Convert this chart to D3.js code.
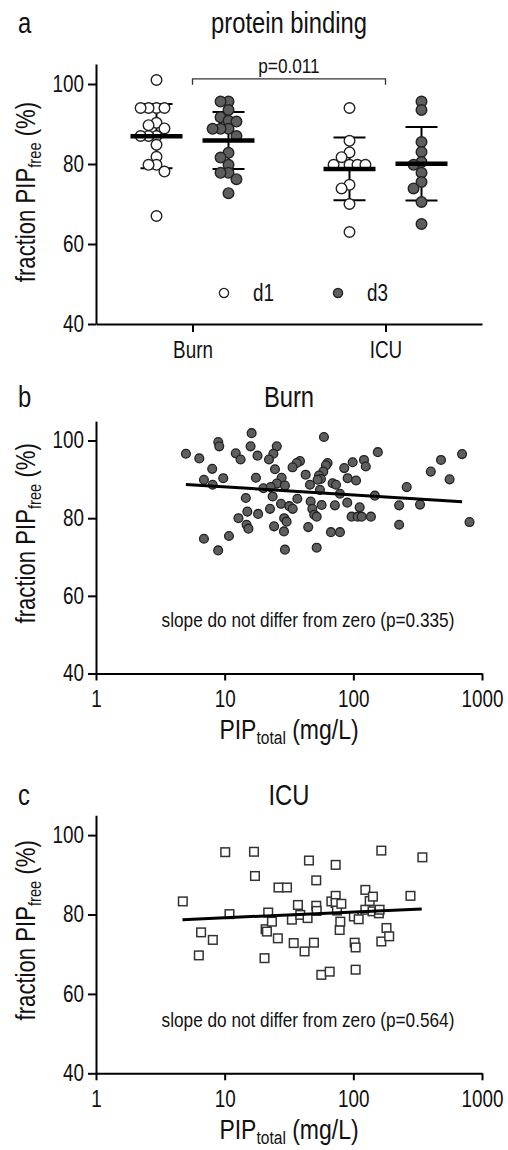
<!DOCTYPE html>
<html>
<head>
<meta charset="utf-8">
<script src="https://cdn.jsdelivr.net/npm/d3@7"></script>
<style>
  body { margin: 0; background: #fff; }
</style>
</head>
<body>
<svg id="viz" width="508" height="1150"></svg>
<script>
// ---- data ----
const groups = ["Burn", "ICU"];
const days = ["d1", "d3"];
const burnD1 = [101, 94, 94, 94, 94, 90.3, 89.7, 88.9, 87, 87, 87, 84.8, 81.8, 79.8, 79.8, 78.1, 67];
const burnD3 = [95.6, 95.6, 93.5, 91.7, 90.6, 90.8, 88.8, 88.8, 88.8, 87, 82.8, 81.6, 79.8, 77.8, 77.8, 76.2, 72.7];
const icuD1 = [94, 85.8, 82.9, 81.7, 79.8, 79.8, 79.8, 79.8, 73.9, 74.8, 70, 63];
const icuD3 = [95.6, 93.5, 85.5, 83, 80.5, 79.8, 77.8, 75.5, 73.9, 70.5, 65];
const pValue = "p=0.011";

// Burn: PIP total (mg/L) vs fraction free (%)
const burnConc = [5.0, 6.35, 8.0, 6.9, 8.07, 9.75, 8.92, 9.08, 12.2, 13.3, 16.2, 15.9, 18.0, 17.5, 14.6, 15.0, 12.8, 18.2, 14.8, 15.3,
  6.9, 10.8, 8.9, 25.4, 23.9, 22.1, 24.6, 59.1, 38.5, 36.3, 33.7, 63.1, 61.2, 42.6, 58.4, 54.1, 56.0, 52.8, 85.0, 98.8,
  121, 125, 155, 90.3, 105, 27.7, 25.4, 29.4, 20.0, 22.8, 46.0, 69.0, 73.3, 55.0, 78.7, 147, 227, 23.6, 36.7, 46.6,
  48.0, 56.7, 71.9, 89.7, 112, 27.4, 31.8, 33.8, 22.5, 49.7, 51.9, 97, 108, 116, 137, 29.0, 30.3, 24.2, 28.9, 44.6,
  67.0, 78.7, 227, 29.4, 51.9, 260, 330, 400, 480, 560, 700, 800];
const burnFree = [96.6, 95.4, 92.7, 89.9, 88.6, 90.3, 99.6, 98.5, 96.7, 95.1, 101.9, 98.5, 96.1, 90.4, 85.2, 81.7, 80.0, 81.1, 78.3, 77.3,
  74.7, 75.4, 71.7, 98.5, 96.6, 95.1, 92.6, 100.9, 94.7, 94.2, 93.1, 94.2, 93.6, 91.2, 92.0, 91.0, 90.1, 89.9, 92.9, 94.4,
  95.0, 93.3, 97.0, 90.3, 89.7, 90.4, 88.9, 88.4, 87.7, 88.0, 88.6, 89.0, 88.6, 87.3, 86.3, 85.8, 83.3, 85.6, 85.0, 84.3,
  82.4, 83.4, 83.3, 84.0, 82.8, 83.7, 83.1, 82.4, 82.4, 80.9, 80.4, 80.4, 80.4, 80.4, 80.4, 80.0, 79.1, 77.9, 76.6, 77.7,
  76.4, 76.4, 78.3, 71.9, 72.4, 88.0, 83.5, 92.0, 95.0, 90.0, 96.5, 79.0];
const burnFit = [[5.0, 88.7], [700, 84.2]];
const burnNote = "slope do not differ from zero (p=0.335)";

// ICU
const icuConc = [4.73, 6.56, 6.3, 8.09, 10.1, 10.9, 16.9, 17.2, 20.4, 20.8, 21.3, 21.8, 23.3, 25.9, 26.2, 30.5, 33.3, 34.4, 37.1, 38.7,
  41.8, 44.1, 45.2, 49.4, 51.5, 51.5, 51.9, 56.4, 65.5, 67.5, 72.9, 72.9, 72.9, 74.6, 78.3, 79.2, 80.7, 101, 102.4, 104.2,
  104.2, 110, 124, 124, 134, 142, 141, 158, 160, 165, 165, 181, 190, 278, 344];
const icuFree = [83.3, 75.5, 69.7, 73.6, 95.7, 80.1, 95.8, 89.7, 69.0, 76.3, 75.7, 80.5, 78.2, 74.0, 86.8, 86.8, 78.7, 72.8, 82.4, 79.9,
  70.7, 79.1, 93.6, 72.9, 88.6, 82.2, 80.9, 64.8, 65.6, 83.3, 92.5, 84.7, 82.9, 81.0, 76.1, 78.2, 82.7, 79.5, 72.9, 71.7,
  66.1, 78.8, 86.2, 81.2, 83.4, 84.5, 80.8, 80.3, 81.2, 96.1, 73.2, 76.6, 74.5, 84.7, 94.4];
const icuFit = [[4.7, 78.7], [340, 81.4]];
const icuNote = "slope do not differ from zero (p=0.564)";

const yTicks = [40, 60, 80, 100];
const xTicks = [1, 10, 100, 1000];

// ---- font: narrow sans if available, otherwise squeeze Liberation Sans ----
function hasFont(name) {
  const c = document.createElement("canvas").getContext("2d");
  const t = "abcdefghij 0123456789 PIP";
  c.font = "40px monospace";
  const w0 = c.measureText(t).width;
  c.font = `40px '${name}', monospace`;
  return c.measureText(t).width !== w0;
}
const NARROW = hasFont("Liberation Sans Narrow");
const FONT = NARROW ? "'Liberation Sans Narrow', sans-serif" : "'Liberation Sans', sans-serif";
const SX = NARROW ? 1 : 0.82;

const svg = d3.select("#viz").attr("font-family", FONT);
const ink = "#111";
const grayFill = "#5e5e5e";

function styleAxis(g) {
  g.attr("font-family", FONT).attr("font-size", 23);
  g.selectAll(".domain").attr("stroke", "#000").attr("stroke-width", 2);
  g.selectAll(".tick line").attr("stroke", "#000").attr("stroke-width", 2);
  g.selectAll(".tick text").attr("fill", ink);
}

function yLabel(cx, cy) {
  const t = svg.append("text")
    .attr("transform", `translate(${cx},${cy}) rotate(-90)`)
    .attr("text-anchor", "middle")
    .attr("font-size", 27)
    .attr("fill", ink);
  t.append("tspan").text("fraction PIP");
  t.append("tspan").text("free").attr("font-size", 18).attr("dy", 6);
  t.append("tspan").text(" (%)").attr("dy", -6);
}

function xLabel(cx, y) {
  const t = svg.append("text")
    .attr("x", cx).attr("y", y)
    .attr("text-anchor", "middle")
    .attr("font-size", 28)
    .attr("fill", ink);
  t.append("tspan").text("PIP");
  t.append("tspan").text("total").attr("font-size", 19).attr("dy", 5);
  t.append("tspan").text(" (mg/L)").attr("dy", -5);
}

function title(letter, text, y) {
  svg.append("text").attr("x", 18).attr("y", y).attr("font-size", 29).attr("fill", ink).text(letter);
  svg.append("text").attr("x", 289).attr("y", y).attr("text-anchor", "middle")
    .attr("font-size", 29).attr("fill", ink).text(text);
}

// simple beeswarm: spreads points horizontally when they collide
function swarm(values, y, r) {
  const placed = [];
  const pts = values.map(v => ({ v, y: y(v) })).sort((a, b) => a.y - b.y);
  const step = r * 1.5;
  pts.forEach(p => {
    for (let k = 0; k < 30; k++) {
      const off = k === 0 ? 0 : (k % 2 ? -1 : 1) * Math.ceil(k / 2) * step;
      if (placed.every(q => (q.dx - off) ** 2 + (q.y - p.y) ** 2 >= step * step)) { p.dx = off; break; }
    }
    placed.push(p);
  });
  return placed;
}

// ===== panel a =====
const yA = d3.scaleLinear().domain([40, 105]).range([324, 64]);
const xA = d3.scalePoint().domain(groups).range([96, 482]).padding(0.5);
const xDay = d3.scalePoint().domain(days).range([-36, 36]);

title("a", "protein binding", 33);

svg.append("g").attr("transform", "translate(96,0)")
  .call(d3.axisLeft(yA).tickValues(yTicks).tickSize(8).tickPadding(4).tickSizeOuter(0))
  .call(styleAxis);
svg.append("g").attr("transform", `translate(0,${yA(40)})`)
  .call(d3.axisBottom(xA).tickSize(8).tickPadding(10).tickSizeOuter(0))
  .call(styleAxis);
yLabel(35, 192);

const seriesA = [
  { group: "Burn", day: "d1", values: burnD1 },
  { group: "Burn", day: "d3", values: burnD3 },
  { group: "ICU", day: "d1", values: icuD1 },
  { group: "ICU", day: "d3", values: icuD3 }
];
const rA = 5.3;
seriesA.forEach(s => {
  const cx = xA(s.group) + xDay(s.day);
  const m = d3.mean(s.values), sd = d3.deviation(s.values);
  const g = svg.append("g");
  // SD bar
  g.append("line").attr("x1", cx).attr("x2", cx).attr("y1", yA(m + sd)).attr("y2", yA(m - sd))
    .attr("stroke", "#000").attr("stroke-width", 2);
  [m + sd, m - sd].forEach(v => {
    g.append("line").attr("x1", cx - 16).attr("x2", cx + 16).attr("y1", yA(v)).attr("y2", yA(v))
      .attr("stroke", "#000").attr("stroke-width", 2);
  });
  g.selectAll("circle").data(swarm(s.values, yA, rA)).join("circle")
    .attr("cx", d => cx + d.dx).attr("cy", d => d.y).attr("r", rA)
    .attr("fill", s.day === "d1" ? "#fff" : grayFill)
    .attr("stroke", "#222").attr("stroke-width", 1.4);
  // mean
  g.append("line").attr("x1", cx - 26).attr("x2", cx + 26).attr("y1", yA(m)).attr("y2", yA(m))
    .attr("stroke", "#000").attr("stroke-width", 4.5);
});

// significance bracket
const bx1 = xA("Burn"), bx2 = xA("ICU");
svg.append("path")
  .attr("d", `M${bx1},${yA(99.8)}V${yA(101.3)}H${bx2}V${yA(99.8)}`)
  .attr("fill", "none").attr("stroke", "#333").attr("stroke-width", 1.3);
svg.append("text").attr("x", (bx1 + bx2) / 2).attr("y", yA(101.3) - 6)
  .attr("text-anchor", "middle").attr("font-size", 21).attr("fill", ink).text(pValue);

// legend
const legend = svg.append("g").attr("transform", "translate(224,293)");
days.forEach((d, i) => {
  const lg = legend.append("g").attr("transform", `translate(${i * 114},0)`);
  lg.append("circle").attr("r", 4.6).attr("fill", d === "d1" ? "#fff" : grayFill)
    .attr("stroke", "#222").attr("stroke-width", 1.3);
  lg.append("text").attr("x", 29).attr("y", 8).attr("font-size", 23).attr("fill", ink).text(d);
});

// ===== panels b, c =====
function scatterPanel(opt) {
  const y = d3.scaleLinear().domain([40, 105]).range([opt.bottom, opt.bottom - 65 * opt.unit]);
  const x = d3.scaleLog().domain([1, 1000]).range([96, 482]);
  title(opt.letter, opt.title, opt.titleY);

  svg.append("g").attr("transform", "translate(96,0)")
    .call(d3.axisLeft(y).tickValues(yTicks).tickSize(8).tickPadding(4).tickSizeOuter(0))
    .call(styleAxis);
  svg.append("g").attr("transform", `translate(0,${y(40)})`)
    .call(d3.axisBottom(x).tickValues(xTicks).tickFormat(d3.format("d")).tickSize(7).tickPadding(10).tickSizeOuter(0))
    .call(styleAxis);
  yLabel(35, (y(40) + y(105)) / 2 - 14);
  xLabel(289, y(40) + 66);

  const pts = opt.conc.map((c, i) => ({ c, f: opt.free[i] }));
  if (opt.shape === "circle") {
    svg.append("g").selectAll("circle").data(pts).join("circle")
      .attr("cx", d => x(d.c)).attr("cy", d => y(d.f)).attr("r", 4.4)
      .attr("fill", grayFill).attr("stroke", "#222").attr("stroke-width", 1.3);
  } else {
    svg.append("g").selectAll("rect").data(pts).join("rect")
      .attr("x", d => x(d.c) - 4.3).attr("y", d => y(d.f) - 4.3)
      .attr("width", 8.6).attr("height", 8.6)
      .attr("fill", "#fff").attr("stroke", "#333").attr("stroke-width", 1.5);
  }
  svg.append("path").datum(opt.fit)
    .attr("d", d3.line().x(d => x(d[0])).y(d => y(d[1])))
    .attr("fill", "none").attr("stroke", "#000").attr("stroke-width", 3);

  svg.append("text").attr("x", 308).attr("y", y(40) - 46)
    .attr("text-anchor", "middle").attr("font-size", 21).attr("fill", ink).text(opt.note);
}

scatterPanel({ letter: "b", title: "Burn", titleY: 407, bottom: 673.5, unit: 3.883,
  conc: burnConc, free: burnFree, fit: burnFit, note: burnNote, shape: "circle" });
scatterPanel({ letter: "c", title: "ICU", titleY: 805, bottom: 1073.3, unit: 3.97,
  conc: icuConc, free: icuFree, fit: icuFit, note: icuNote, shape: "square" });

// squeeze every text horizontally around its anchor (Arial Narrow look)
if (SX !== 1) {
  svg.selectAll("text").each(function () {
    const el = d3.select(this);
    const x = +el.attr("x") || 0;
    const tr = el.attr("transform") || "";
    el.attr("transform", `${tr} translate(${x},0) scale(${SX},1) translate(${-x},0)`);
  });
}
</script>
</body>
</html>
